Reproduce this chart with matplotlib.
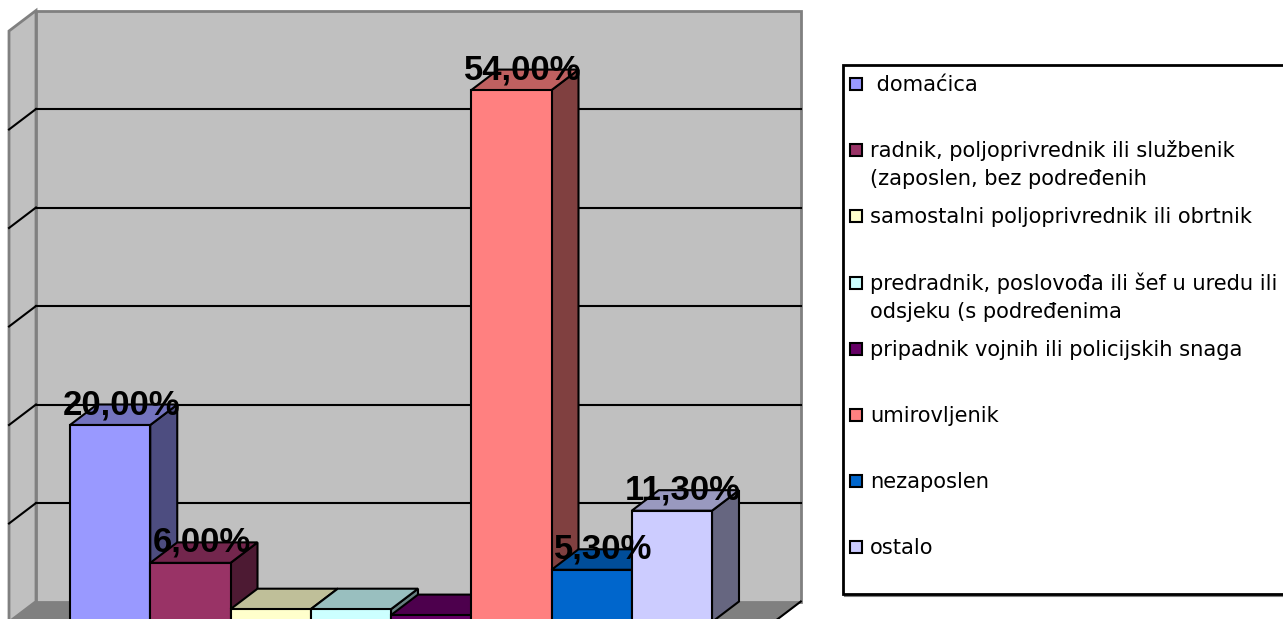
import matplotlib.pyplot as plt
from matplotlib.patches import Polygon, Rectangle
import matplotlib.colors as mcolors

# Data -----------------------------------------------------------------------
categories = [
    " domaćica",
    "radnik, poljoprivrednik ili službenik\n(zaposlen, bez podređenih",
    "samostalni poljoprivrednik ili obrtnik",
    "predradnik, poslovođa ili šef u uredu ili\nodsjeku (s podređenima",
    "pripadnik vojnih ili policijskih snaga",
    "umirovljenik",
    "nezaposlen",
    "ostalo",
]
values = [20.0, 6.0, 1.3, 1.3, 0.7, 54.0, 5.3, 11.3]
value_labels = ["20,00%", "6,00%", "", "", "", "54,00%", "5,30%", "11,30%"]
grid_values = [10, 20, 30, 40, 50]
y_max = 60

colors = ["#9999FF", "#993366", "#FFFFCC", "#CCFFFF",
          "#660066", "#FF8080", "#0066CC", "#CCCCFF"]


def shade(c, f):
    r, g, b = mcolors.to_rgb(c)
    return (r * f, g * f, b * f)


# Layout (pixel mapping of the front plane) ----------------------------------
W, H = 1283, 619
PX0, PXU = 70, 80.25     # pixel x of category 0, pixels per category
PY0, PYU = 622, 9.85     # pixel y of value 0, pixels per percent
DX, DY = 27 / PXU, 20.5 / PYU   # depth offset in data units
X_LEFT, X_RIGHT = -0.76, 8.77

fig = plt.figure(figsize=(W / 100, H / 100), dpi=100)
ax = fig.add_axes([0, 0, 1, 1])
ax.set_xlim(-PX0 / PXU, (W - PX0) / PXU)
ax.set_ylim((PY0 - H) / PYU, PY0 / PYU)
ax.axis("off")

# walls and floor
ax.add_patch(Polygon([(X_LEFT, 0), (X_RIGHT, 0), (X_RIGHT + DX, DY), (X_LEFT + DX, DY)],
                     closed=True, facecolor="#808080", edgecolor="#808080", lw=1, zorder=1))
ax.plot([X_RIGHT, X_RIGHT + DX], [0, DY], color="black", lw=1.5, zorder=2)
ax.add_patch(Polygon([(X_LEFT, 0), (X_LEFT + DX, DY), (X_LEFT + DX, y_max + DY), (X_LEFT, y_max)],
                     closed=True, facecolor="#C0C0C0", edgecolor="#808080", lw=2, zorder=1))
ax.add_patch(Rectangle((X_LEFT + DX, DY), X_RIGHT - X_LEFT, y_max,
                       facecolor="#C0C0C0", edgecolor="#808080", lw=2, zorder=1))
for g in grid_values:
    ax.plot([X_LEFT + DX, X_RIGHT + DX], [g + DY, g + DY], color="black", lw=1.5, zorder=2)
    ax.plot([X_LEFT, X_LEFT + DX], [g, g + DY], color="black", lw=1.5, zorder=2)

# bars, left to right so each one hides the side of the previous
for i, (v, c) in enumerate(zip(values, colors)):
    z = 3 + i
    side = [(i + 1, 0), (i + 1 + DX, DY), (i + 1 + DX, v + DY), (i + 1, v)]
    top = [(i, v), (i + 1, v), (i + 1 + DX, v + DY), (i + DX, v + DY)]
    ax.add_patch(Polygon(side, closed=True, facecolor=shade(c, 0.5), edgecolor="black", lw=1.5, zorder=z))
    ax.add_patch(Polygon(top, closed=True, facecolor=shade(c, 0.75), edgecolor="black", lw=1.5, zorder=z))
    ax.add_patch(Rectangle((i, 0), 1, v, facecolor=c, edgecolor="black", lw=1.5, zorder=z))

for i, (v, lab) in enumerate(zip(values, value_labels)):
    if lab:
        ax.text(i + 0.5 + 0.14, v + DY, lab, ha="center", va="center",
                fontsize=25, fontweight="bold", family="Liberation Sans", zorder=20)

# Legend ---------------------------------------------------------------------
lax = fig.add_axes([0, 0, 1, 1])
lax.set_xlim(0, W)
lax.set_ylim(H, 0)
lax.axis("off")
lax.add_patch(Rectangle((845, 67), 460, 529, facecolor="none", edgecolor="#808080", lw=1.5))
lax.add_patch(Rectangle((843, 65), 460, 529, facecolor="white", edgecolor="black", lw=2))
for k, (lab, c) in enumerate(zip(categories, colors)):
    y = 84 + 66.2 * k
    lax.add_patch(Rectangle((850, y - 6), 12, 12, facecolor=c, edgecolor="black", lw=1.5))
    for j, line in enumerate(lab.split("\n")):
        lax.text(870, y + 7 + 28 * j, line, ha="left", va="baseline",
                 fontsize=15.1, family="DejaVu Sans")

fig.savefig("out.png", dpi=100)
